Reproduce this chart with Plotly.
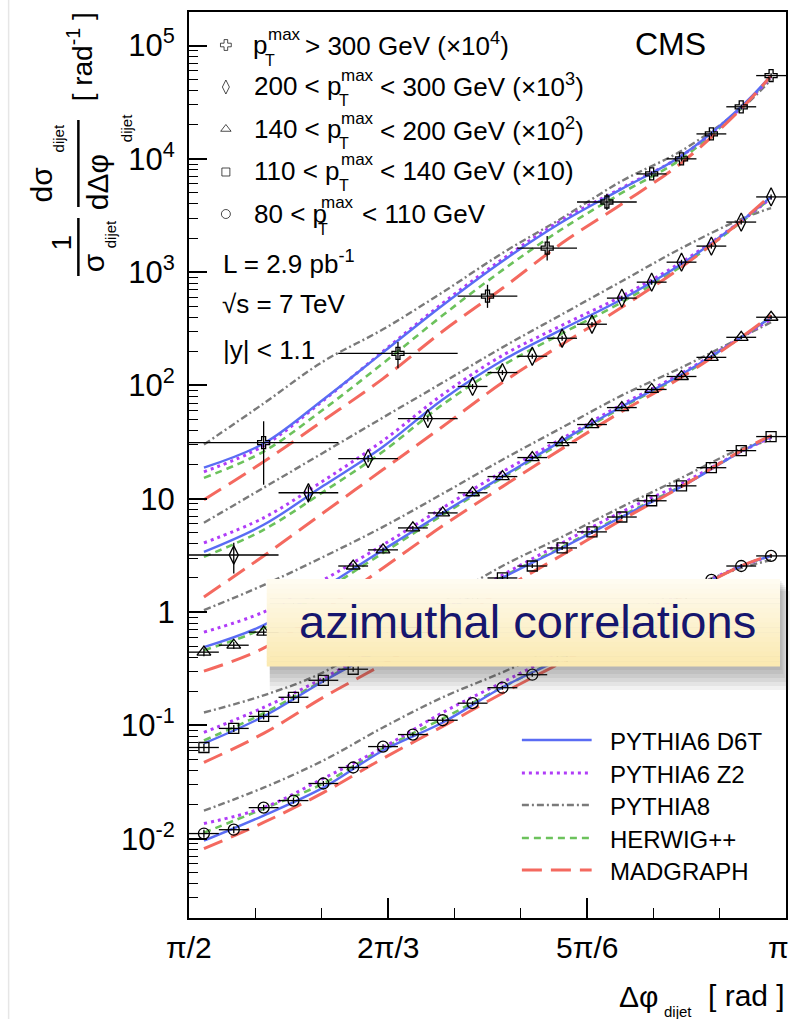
import numpy as np
import plotly.graph_objects as go

FONT = "Liberation Sans, Arial, Helvetica, sans-serif"

# ---------------- data ----------------
# bin edges in rad
edges_fine = [1.5708, 1.6493, 1.7279, 1.8064, 1.8850, 1.9635, 2.0420, 2.1206, 2.1991, 2.2777,
              2.3562, 2.4347, 2.5133, 2.5918, 2.6704, 2.7489, 2.8274, 2.9060, 2.9845, 3.0631, 3.1416]
edges_200 = [1.5708, 1.8064, 1.9635, 2.1206, 2.2777, 2.3562, 2.4347, 2.5133, 2.5918, 2.6704,
             2.7489, 2.8274, 2.9060, 2.9845, 3.0631, 3.1416]
edges_300 = [1.5708, 1.9635, 2.2777, 2.4347, 2.5918, 2.7489, 2.8274, 2.9060, 2.9845, 3.0631, 3.1416]

# measured points (already multiplied by the offset factors shown in the legend)
data_300 = [31.3, 192, 614, 1630, 4160, 7360, 10000, 16600, 28800, 54300]
errhi_300 = [17, 50, 160, 450, 750, 370, 500, 830, 1440, 2700]
errlo_300 = [18, 50, 130, 360, 620, 370, 500, 830, 1440, 2700]

data_200 = [3.19, 11.3, 22.6, 51, 98, 130, 181, 261, 347, 590, 816, 1225, 1698, 2767, 4613]
errhi_200 = [0.9, 1.6, 1.6, 3.0, 5.0, 6.5, 9.0, 13, 17, 30, 41, 61, 85, 140, 230]
errlo_200 = [1.0, 2.0, 1.6, 3.0, 5.0, 6.5, 9.0, 13, 17, 30, 41, 61, 85, 140, 230]

data_140 = [0.443, 0.51, 0.665, 1.04, 1.63, 2.55, 3.54, 5.53, 7.5, 11.3,
            15.7, 23.1, 31.3, 45.2, 63.8, 92.2, 120, 177, 266, 400]
data_110 = [0.0638, 0.094, 0.120, 0.177, 0.250, 0.313, 0.46, 0.66, 0.95, 1.37,
            2.0, 2.55, 3.68, 5.1, 6.9, 9.6, 13.0, 18.8, 26.6, 35.4]
data_80 = [0.0111, 0.0120, 0.0188, 0.0217, 0.0307, 0.0425, 0.065, 0.083, 0.111, 0.157,
           0.215, 0.28, 0.384, 0.532, 0.736, 1.02, 1.39, 1.92, 2.55, 3.13]
relerr_fine = [0.08, 0.07, 0.06, 0.06, 0.05, 0.05, 0.05, 0.04, 0.04, 0.04,
               0.04, 0.04, 0.04, 0.04, 0.04, 0.04, 0.04, 0.04, 0.04, 0.04]

# MC predictions sampled at these azimuthal angles
curve_phi = [1.6101, 1.7671, 1.9242, 2.0813, 2.2384, 2.3955, 2.5525, 2.7096, 2.8667, 3.0238, 3.1023]

d6t_300 = [18.8, 30.7, 75.2, 196, 511, 1250, 2767, 5433, 10640, 28840, 54330]
z2_300 = [17.3, 29.4, 73.6, 200, 532, 1303, 2884, 5534, 10640, 28250, 53210]
p8_300 = [30.1, 69.3, 163, 313, 665, 1472, 3006, 6383, 11780, 27670, 50000]
hw_300 = [15.3, 26.1, 61.4, 157, 416, 1042, 2404, 5000, 10000, 28250, 53210]
mg_300 = [9.8, 21.2, 49.0, 115, 301, 721, 1807, 4000, 9226, 27670, 54330]

d6t_200 = [3.40, 5.89, 13.0, 28.8, 75.2, 166, 313, 577, 1178, 2825, 4613]
z2_200 = [4.08, 6.79, 14.4, 32.6, 83.2, 184, 340, 614, 1225, 2825, 4519]
p8_200 = [6.14, 12.5, 25.5, 52.1, 106, 217, 425, 832, 1630, 2944, 3681]
hw_200 = [3.07, 5.32, 11.5, 26.1, 67.9, 150, 288, 543, 1130, 2767, 4519]
mg_200 = [1.36, 3.13, 7.52, 18.1, 43.4, 106, 231, 490, 1107, 2825, 4797]

d6t_140 = [0.490, 0.767, 1.63, 3.54, 7.52, 15.7, 32.6, 65.2, 125, 266, 400]
z2_140 = [0.665, 1.0, 1.92, 3.92, 8.32, 17.3, 34.0, 67.9, 128, 266, 384]
p8_140 = [1.04, 1.73, 3.07, 5.65, 11.1, 22.1, 42.5, 81.7, 144, 266, 361]
hw_140 = [0.461, 0.721, 1.53, 3.33, 7.21, 15.3, 31.3, 63.8, 122, 266, 400]
mg_140 = [0.301, 0.480, 1.04, 2.45, 5.77, 12.8, 27.7, 58.9, 118, 266, 416]

d6t_110 = [0.0693, 0.120, 0.245, 0.480, 0.980, 2.0, 3.68, 6.93, 12.8, 26.1, 35.4]
z2_110 = [0.0867, 0.144, 0.261, 0.511, 1.04, 2.12, 4.08, 7.67, 13.6, 26.1, 34.7]
p8_110 = [0.130, 0.184, 0.294, 0.614, 1.25, 2.55, 4.61, 8.49, 15.3, 27.7, 32.6]
hw_110 = [0.0736, 0.128, 0.250, 0.490, 1.0, 2.04, 3.76, 7.08, 13.0, 26.1, 35.4]
mg_110 = [0.0471, 0.0849, 0.177, 0.347, 0.721, 1.57, 3.19, 6.52, 12.8, 26.6, 36.1]

d6t_80 = [0.0096, 0.0160, 0.0282, 0.0601, 0.106, 0.217, 0.392, 0.736, 1.39, 2.55, 3.13]
z2_80 = [0.0136, 0.0188, 0.0340, 0.0638, 0.130, 0.240, 0.443, 0.817, 1.47, 2.55, 3.13]
p8_80 = [0.0177, 0.0282, 0.0490, 0.0959, 0.177, 0.294, 0.511, 0.904, 1.57, 2.45, 2.88]
hw_80 = [0.0113, 0.0184, 0.0307, 0.0625, 0.115, 0.217, 0.400, 0.752, 1.39, 2.55, 3.13]
mg_80 = [0.00817, 0.0139, 0.0255, 0.0511, 0.098, 0.192, 0.361, 0.693, 1.36, 2.55, 3.19]

model_names = ["PYTHIA6 D6T", "PYTHIA6 Z2", "PYTHIA8", "HERWIG++", "MADGRAPH"]
x_tick_vals = [np.pi / 2, 2 * np.pi / 3, 5 * np.pi / 6, np.pi]
x_tick_text = ["π/2", "2π/3", "5π/6", "π"]
y_tick_vals = [1e-2, 1e-1, 1, 10, 1e2, 1e3, 1e4, 1e5]
y_tick_text = ["10<sup>-2</sup>", "10<sup>-1</sup>", "1", "10", "10<sup>2</sup>",
               "10<sup>3</sup>", "10<sup>4</sup>", "10<sup>5</sup>"]

# ---------------- styling ----------------
model_style = {
    "PYTHIA6 D6T": dict(color="#5a6cf4", dash="solid", width=2.4),
    "PYTHIA6 Z2": dict(color="#b03cf8", dash="3px,4px", width=3.0),
    "PYTHIA8": dict(color="#7a7a7a", dash="7px,3px,2px,3px", width=2.4),
    "HERWIG++": dict(color="#6cc25c", dash="7px,5px", width=2.6),
    "MADGRAPH": dict(color="#f4695f", dash="20px,9px", width=3.0),
}

W, H = 793, 1019
L, R, T, B = 189, 788, 12, 918


def px(x):
    return (x - L) / (R - L)


def py(y):
    return (B - y) / (B - T)


fig = go.Figure()

mc_sets = [
    [d6t_300, z2_300, p8_300, hw_300, mg_300],
    [d6t_200, z2_200, p8_200, hw_200, mg_200],
    [d6t_140, z2_140, p8_140, hw_140, mg_140],
    [d6t_110, z2_110, p8_110, hw_110, mg_110],
    [d6t_80, z2_80, p8_80, hw_80, mg_80],
]
# draw order: PYTHIA8, HERWIG, Z2, D6T, MADGRAPH
order = [2, 3, 1, 0, 4]
for curves in mc_sets:
    for i in order:
        name = model_names[i]
        st = model_style[name]
        fig.add_trace(go.Scatter(
            x=curve_phi, y=curves[i], mode="lines", line_shape="spline",
            line=dict(color=st["color"], dash=st["dash"], width=st["width"], smoothing=1.0),
            showlegend=False, hoverinfo="skip"))


def add_data(edges, vals, ehi, elo, symbol, size):
    lo = np.array(edges[:-1])
    hi = np.array(edges[1:])
    c = (lo + hi) / 2
    fig.add_trace(go.Scatter(
        x=c, y=vals, mode="markers",
        marker=dict(symbol=symbol, size=size, color="black", line=dict(color="black", width=1.3)),
        error_x=dict(type="data", symmetric=False, array=hi - c, arrayminus=c - lo,
                     width=0, thickness=1.3, color="black"),
        error_y=dict(type="data", symmetric=False, array=ehi, arrayminus=elo,
                     width=0, thickness=1.3, color="black"),
        showlegend=False, hoverinfo="skip"))


rel = np.array(relerr_fine)
add_data(edges_300, data_300, errhi_300, errlo_300, "cross-open", 10)
add_data(edges_200, data_200, errhi_200, errlo_200, "diamond-tall-open", 13)
add_data(edges_fine, data_140, list(rel * np.array(data_140)), list(rel * np.array(data_140)),
         "triangle-up-open", 12)
add_data(edges_fine, data_110, list(rel * np.array(data_110)), list(rel * np.array(data_110)),
         "square-open", 10)
add_data(edges_fine, data_80, list(rel * np.array(data_80)), list(rel * np.array(data_80)),
         "circle-open", 11)

# legend keys for data (overlay axes in pixel units)
leg_rows = [45, 87, 129, 172, 214]
fig.add_trace(go.Scatter(
    x=[226] * 5, y=leg_rows, xaxis="x2", yaxis="y2", mode="markers",
    marker=dict(symbol=["cross-open", "diamond-tall-open", "triangle-up-open", "square-open", "circle-open"],
                size=[9, 10, 9, 8, 9], color="black", line=dict(color="black", width=1.0)),
    showlegend=False, hoverinfo="skip"))

annots = []
shapes = []


def txt(s, x, y, size, xa="left", ya="middle", angle=0, color="black"):
    annots.append(dict(text=s, x=px(x), y=py(y), xref="paper", yref="paper",
                       xanchor=xa, yanchor=ya, showarrow=False, textangle=angle,
                       font=dict(size=size, color=color, family=FONT)))


# ---- top-left legend text ----
rows = [
    ("p", 251, 303, "> 300 GeV (×10<sup>4</sup>)", 44),
    ("200 < p", 252, 379, "< 300 GeV (×10<sup>3</sup>)", 85),
    ("140 < p", 252, 379, "< 200 GeV (×10<sup>2</sup>)", 128),
    ("110 < p", 252, 379, "< 140 GeV (×10)", 170),
    ("80 < p", 252, 361, "< 110 GeV", 213),
]
p_left = [251, 325, 325, 325, 304]
for (pre, x0, xs, suf, yc), pl in zip(rows, p_left):
    txt(pre, x0, yc + 1, 26)
    txt("max", pl + 15, yc - 10, 17)
    txt("T", pl + 12, yc + 16, 16)
    txt(suf, xs, yc + 1, 26)

txt("L = 2.9 pb<sup>-1</sup>", 221, 262, 26)
txt("√s = 7 TeV", 220, 304, 26)
txt("|y| < 1.1", 221, 350, 26)
txt("CMS", 672, 44, 32, xa="center")

# ---- bottom-right MC legend ----
mc_leg_rows = [740, 773, 805, 838, 870]
for name, yy in zip(model_names, mc_leg_rows):
    st = model_style[name]
    shapes.append(dict(type="line", xref="paper", yref="paper", x0=px(523), x1=px(593),
                       y0=py(yy), y1=py(yy), layer="above",
                       line=dict(color=st["color"], dash=st["dash"], width=st["width"])))
    txt(name, 609, yy + 1, 24)

# ---- x tick labels ----
for v, s in zip(x_tick_vals, x_tick_text):
    xpix = L + (v - np.pi / 2) / (np.pi / 2) * (R - L)
    if s == "π":
        xpix -= 8
    txt(s, xpix, 947, 30, xa="center")

# ---- x axis title ----
txt("Δφ", 618, 997, 30)
txt("dijet", 664, 1011, 15)
txt("[ rad ]", 708, 995, 30)

# ---- y axis title (rotated pieces) ----
txt("1", 62, 242, 28, xa="center", angle=-90)
txt("σ", 93, 263, 30, xa="center", angle=-90)
txt("dijet", 110, 234, 15, xa="center", angle=-90)
txt("dσ", 42, 184, 30, xa="center", angle=-90)
txt("dijet", 58, 138, 15, xa="center", angle=-90)
txt("dΔφ", 98, 182, 30, xa="center", angle=-90)
txt("dijet", 127, 128, 15, xa="center", angle=-90)
txt("[ rad<sup>-1</sup> ]", 80, 57, 28, xa="center", angle=-90)
for (y0, y1) in [(218, 276), (120, 207)]:
    shapes.append(dict(type="line", xref="paper", yref="paper", x0=px(78), x1=px(78),
                       y0=py(y0), y1=py(y1), line=dict(color="black", width=2.5)))

# faint slide edge at far left
shapes.append(dict(type="line", xref="paper", yref="paper", x0=px(8), x1=px(8),
                   y0=py(0), y1=py(1019), line=dict(color="#e6e6e6", width=1.5)))

# ---- overlay box "azimuthal correlations" ----
bx0, bx1, by0, by1 = 267, 782, 579, 666
for i in range(6, 0, -1):
    shapes.append(dict(type="rect", xref="paper", yref="paper", layer="above",
                       x0=px(bx0 + 3), x1=px(bx1 + 1.6 * i), y0=py(by0 + 2 * i), y1=py(by1 + 4 * i),
                       line=dict(width=0), fillcolor="rgba(60,60,60,0.07)"))
nb = 18
c_top = np.array([255, 252, 241])
c_bot = np.array([251, 234, 178])
for i in range(nb):
    f = i / (nb - 1)
    c = (c_top * (1 - f) + c_bot * f).astype(int)
    ya = by0 + (by1 - by0) * i / nb
    yb = by0 + (by1 - by0) * (i + 1) / nb
    shapes.append(dict(type="rect", xref="paper", yref="paper", layer="above",
                       x0=px(bx0), x1=px(bx1), y0=py(ya), y1=py(yb + 0.5),
                       line=dict(width=0), fillcolor=f"rgb({c[0]},{c[1]},{c[2]})"))
txt("azimuthal correlations", 529, 621, 47, xa="center", color="#16166e")

# ---------------- axes ----------------
minor_y = [m * 10.0 ** e for e in range(-3, 6) for m in range(2, 10)]
minor_x = [np.pi / 2 + k * np.pi / 18 for k in range(1, 9)]

fig.update_layout(
    width=W, height=H,
    margin=dict(l=L, r=W - R, t=T, b=H - B, pad=0),
    paper_bgcolor="white", plot_bgcolor="white",
    font=dict(family=FONT, color="black"),
    showlegend=False,
    xaxis=dict(range=[np.pi / 2, np.pi], tickvals=x_tick_vals, showticklabels=False,
               ticks="inside", ticklen=20, tickwidth=1.5, tickcolor="black",
               minor=dict(tickvals=minor_x, ticks="inside", ticklen=10, tickwidth=1.3, tickcolor="black"),
               showline=True, mirror=True, linecolor="black", linewidth=2,
               showgrid=False, zeroline=False),
    yaxis=dict(type="log", range=[-2.70, 5.296], tickvals=y_tick_vals, ticktext=y_tick_text,
               ticks="inside", ticklen=18, tickwidth=1.5, tickcolor="black",
               minor=dict(tickvals=minor_y, ticks="inside", ticklen=9, tickwidth=1.3, tickcolor="black"),
               showline=True, mirror=True, linecolor="black", linewidth=2,
               showgrid=False, zeroline=False,
               tickfont=dict(size=31, family=FONT, color="black"), ticklabelstandoff=6),
    xaxis2=dict(overlaying="x", range=[L, R], visible=False),
    yaxis2=dict(overlaying="y", range=[B, T], visible=False),
    annotations=annots,
    shapes=shapes,
)

fig.write_html("out.html", config=dict(displayModeBar=False))
